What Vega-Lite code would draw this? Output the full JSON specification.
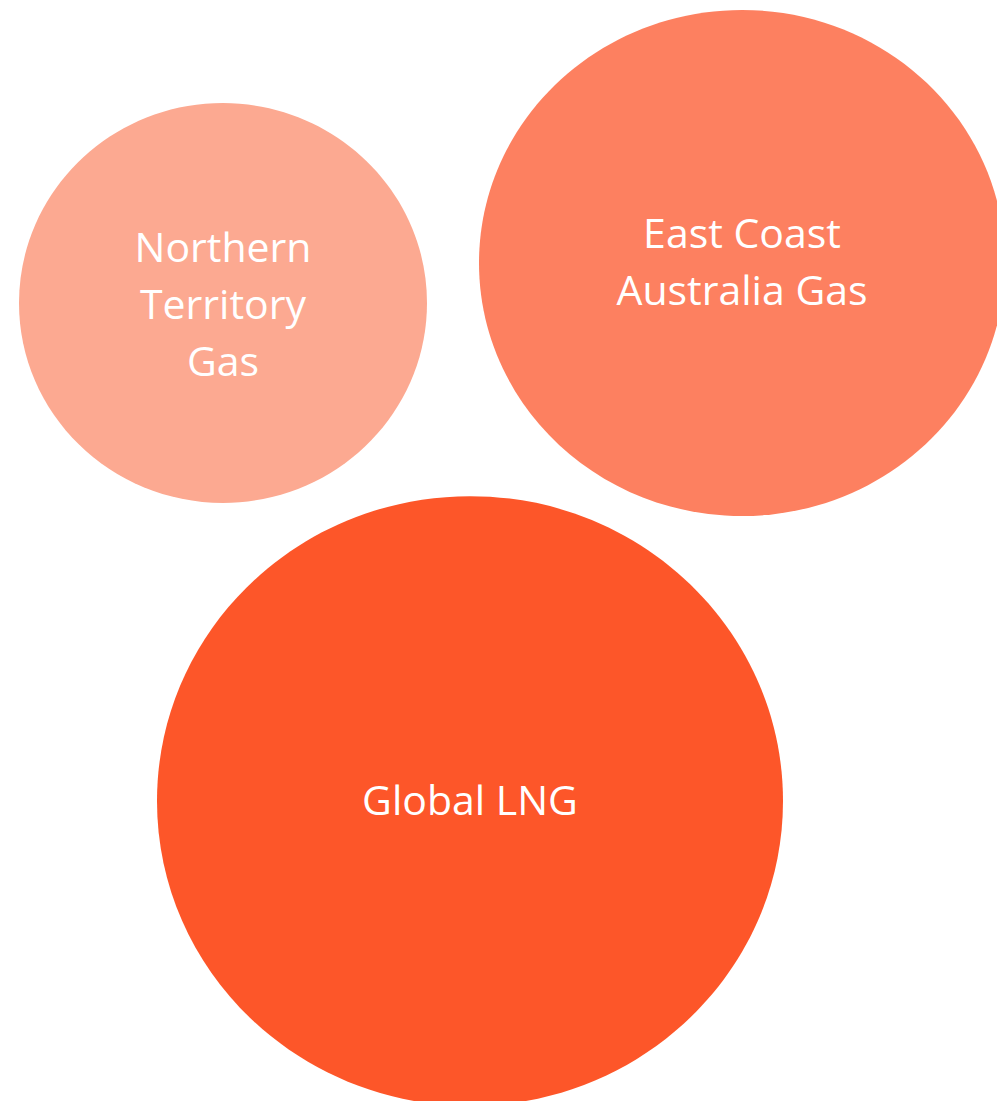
{
  "$schema": "https://vega.github.io/schema/vega-lite/v6.json",
  "width": 997,
  "height": 1101,
  "autosize": {"type": "fit", "contains": "padding"},
  "padding": 0,
  "background": "white",
  "config": {"view": {"stroke": null}},
  "data": {
    "values": [
      {"label": "Northern\nTerritory\nGas", "name": "Northern Territory Gas", "cx": 223, "cy": 303, "value": 1.6646},
      {"label": "East Coast\nAustralia Gas", "name": "East Coast Australia Gas", "cx": 742, "cy": 263, "value": 2.7668},
      {"label": "Global LNG", "name": "Global LNG", "cx": 470, "cy": 801, "value": 3.9188}
    ]
  },
  "encoding": {
    "x": {"field": "cx", "type": "quantitative", "scale": {"domain": [0, 997], "nice": false, "zero": false}, "axis": null},
    "y": {"field": "cy", "type": "quantitative", "scale": {"domain": [1101, 0], "nice": false, "zero": false}, "axis": null}
  },
  "layer": [
    {
      "mark": {"type": "point", "filled": true, "opacity": 1, "strokeWidth": 0, "clip": true},
      "encoding": {
        "size": {"field": "value", "type": "quantitative", "scale": {"type": "linear", "domain": [0, 4], "range": [0, 400000], "zero": true}, "legend": null},
        "color": {"field": "name", "type": "nominal", "scale": {"domain": ["Northern Territory Gas", "East Coast Australia Gas", "Global LNG"], "range": ["#FCA991", "#FD8060", "#FD5629"]}, "legend": null},
        "shape": {"field": "name", "type": "nominal", "scale": {"domain": ["Northern Territory Gas", "East Coast Australia Gas", "Global LNG"], "range": [
          "M -1 0 C -1 -0.541 -0.552 -0.98 0 -0.98 C 0.552 -0.98 1 -0.541 1 0 C 1 0.541 0.552 0.98 0 0.98 C -0.552 0.98 -1 0.541 -1 0 Z",
          "M -1 0 C -1 -0.532 -0.552 -0.962 0 -0.962 C 0.552 -0.962 1 -0.532 1 0 C 1 0.532 0.552 0.962 0 0.962 C -0.552 0.962 -1 0.532 -1 0 Z",
          "M -1 0 C -1 -0.538 -0.552 -0.974 0 -0.974 C 0.552 -0.974 1 -0.538 1 0 C 1 0.538 0.552 0.974 0 0.974 C -0.552 0.974 -1 0.538 -1 0 Z"
        ]}, "legend": null}
      }
    },
    {
      "transform": [{"filter": "datum.name === 'Northern Territory Gas'"}],
      "mark": {"type": "text", "font": "Open Sans", "fontSize": 41, "color": "white", "align": "center", "baseline": "middle", "lineBreak": "\n", "lineHeight": 57, "dy": -53},
      "encoding": {"text": {"field": "label", "type": "nominal"}}
    },
    {
      "transform": [{"filter": "datum.name === 'East Coast Australia Gas'"}],
      "mark": {"type": "text", "font": "Open Sans", "fontSize": 41, "color": "white", "align": "center", "baseline": "middle", "lineBreak": "\n", "lineHeight": 57, "dy": -27},
      "encoding": {"text": {"field": "label", "type": "nominal"}}
    },
    {
      "transform": [{"filter": "datum.name === 'Global LNG'"}],
      "mark": {"type": "text", "font": "Open Sans", "fontSize": 41, "color": "white", "align": "center", "baseline": "middle", "lineBreak": "\n", "lineHeight": 57, "dy": 2},
      "encoding": {"text": {"field": "label", "type": "nominal"}}
    }
  ]
}
